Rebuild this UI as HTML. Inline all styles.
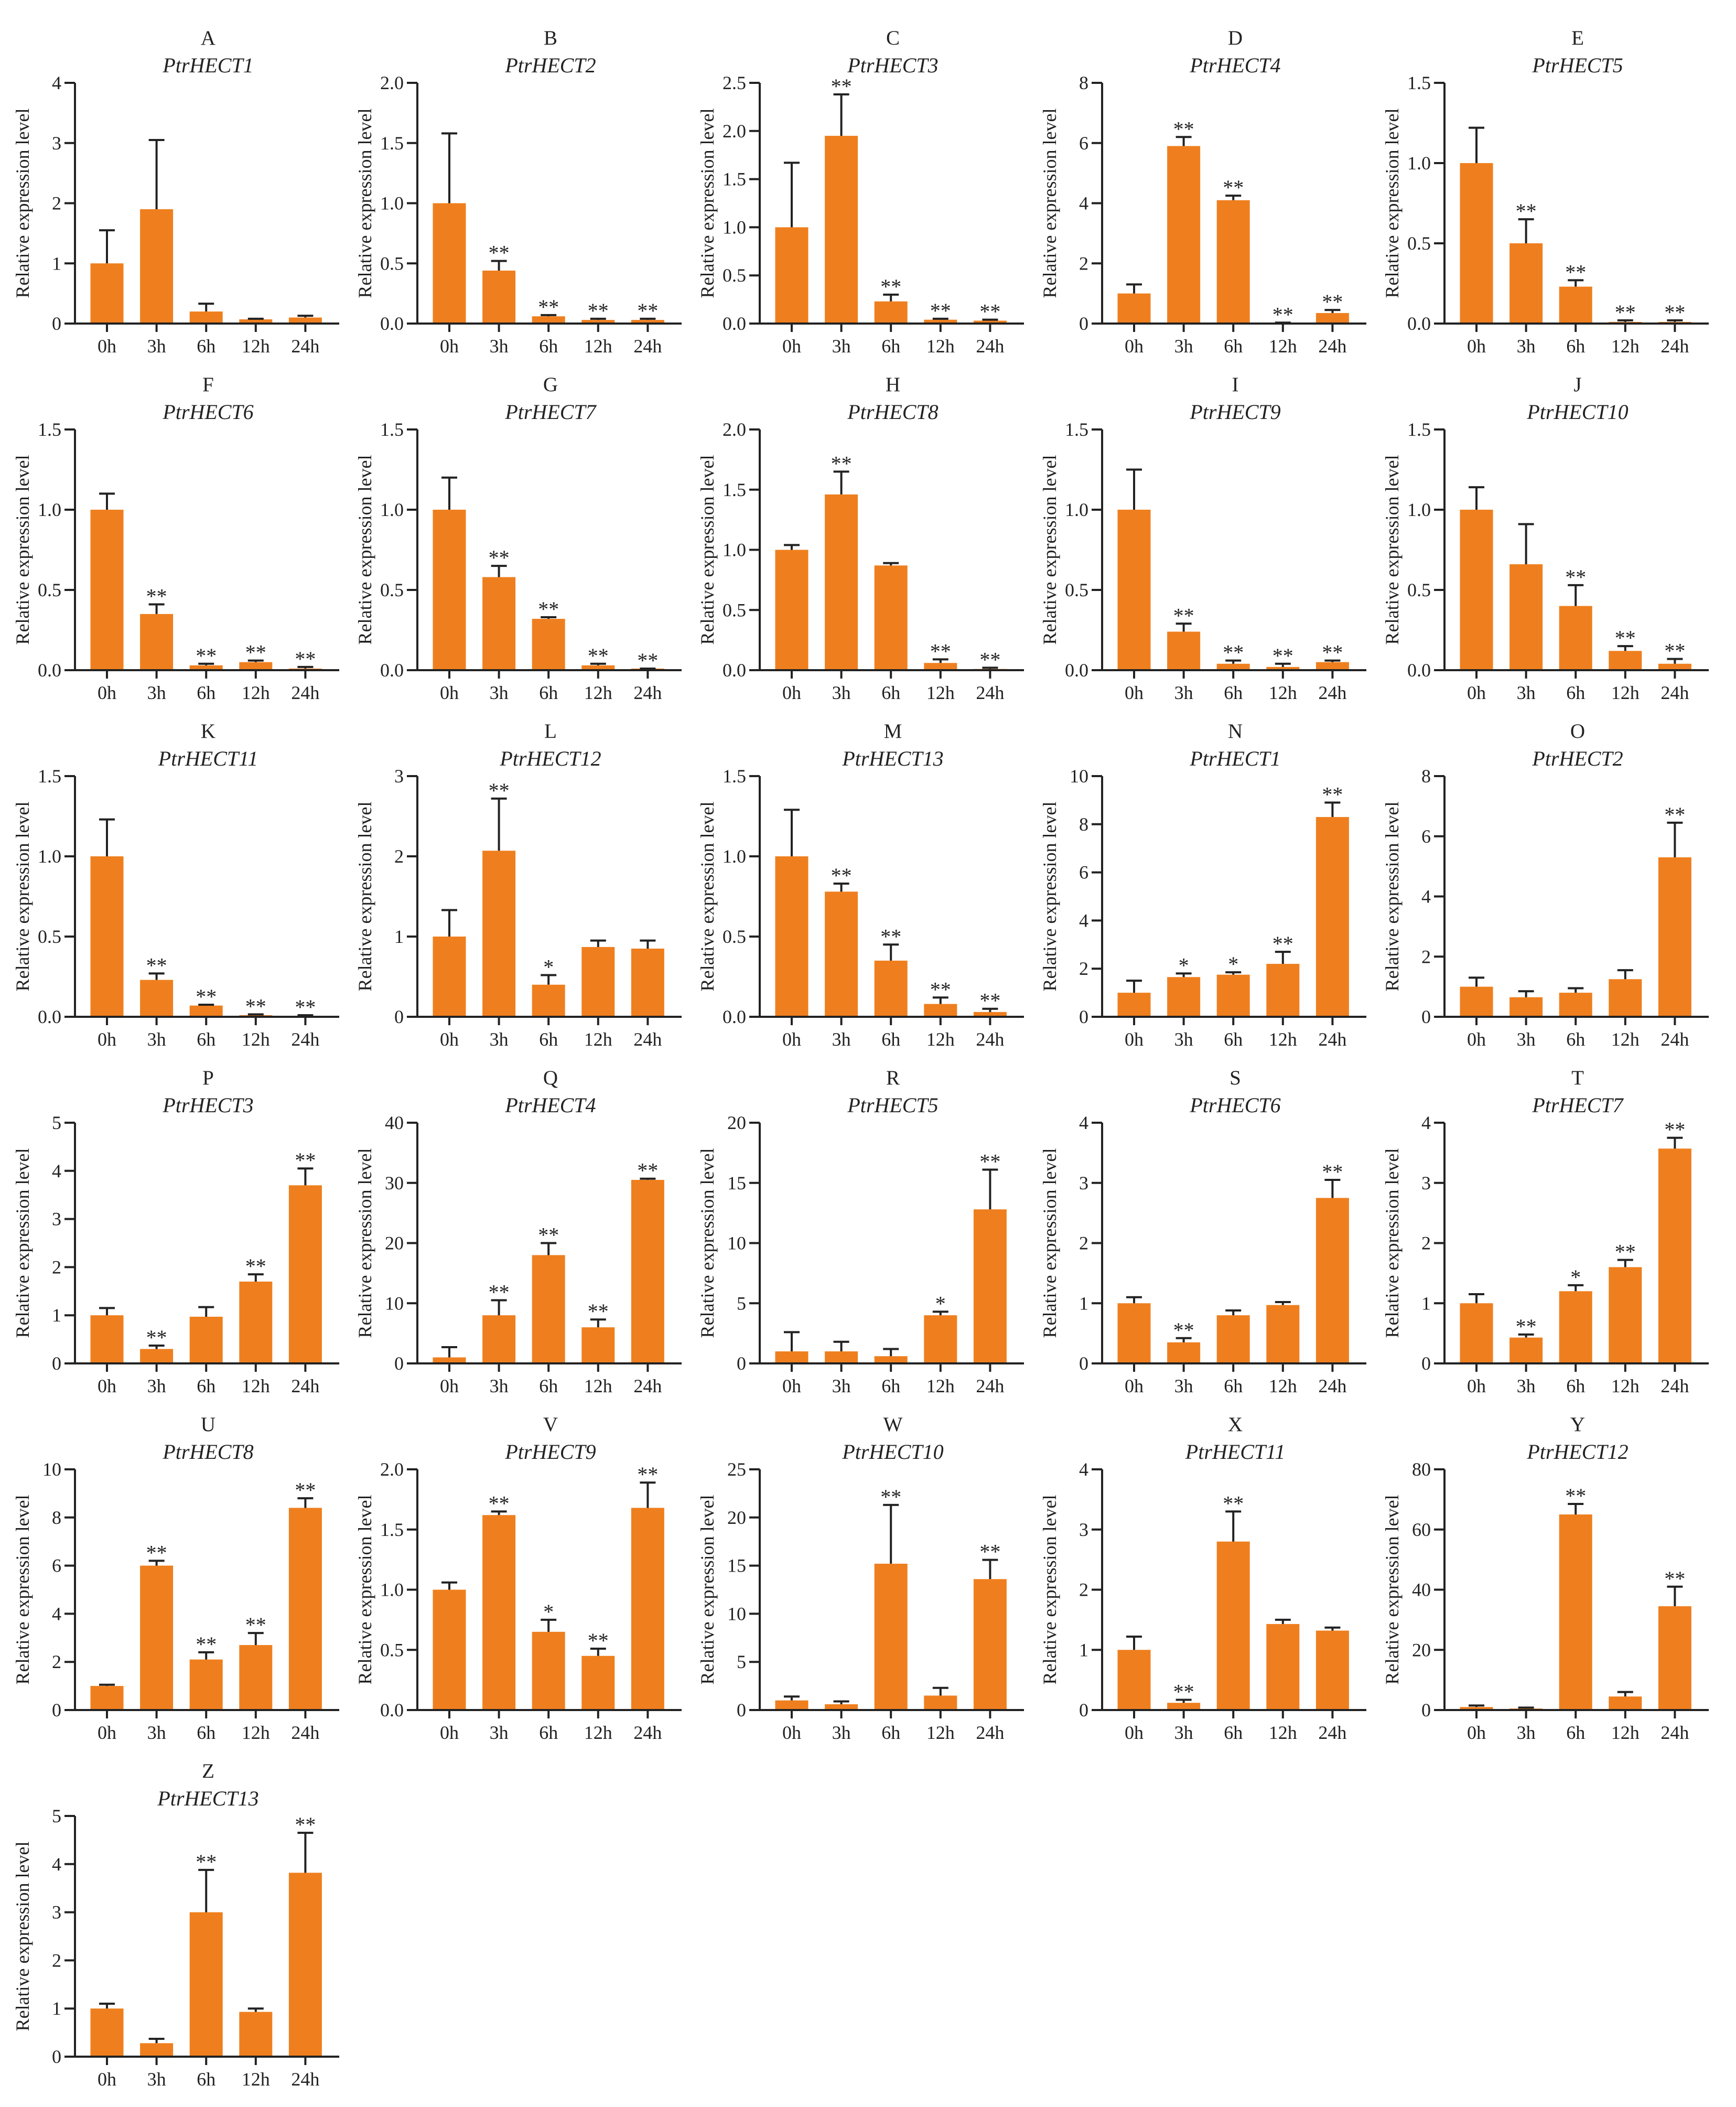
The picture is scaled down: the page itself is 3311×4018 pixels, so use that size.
<!DOCTYPE html>
<html><head><meta charset="utf-8">
<style>
html,body{margin:0;padding:0;background:#fff;}
svg{display:block;}
text{font-family:"Liberation Serif","DejaVu Serif",serif;fill:#222;}
</style></head>
<body>
<svg id="fig" width="3311" height="4018" viewBox="0 0 3311 4018" xmlns="http://www.w3.org/2000/svg"></svg>
<script>
const panelLetters = ["A","B","C","D","E","F","G","H","I","J","K","L","M","N","O","P","Q","R","S","T","U","V","W","X","Y","Z"];
const geneNames = ["PtrHECT1","PtrHECT2","PtrHECT3","PtrHECT4","PtrHECT5","PtrHECT6","PtrHECT7","PtrHECT8","PtrHECT9","PtrHECT10","PtrHECT11","PtrHECT12","PtrHECT13","PtrHECT1","PtrHECT2","PtrHECT3","PtrHECT4","PtrHECT5","PtrHECT6","PtrHECT7","PtrHECT8","PtrHECT9","PtrHECT10","PtrHECT11","PtrHECT12","PtrHECT13"];
const categories = ["0h","3h","6h","12h","24h"];
const yMax = [4,2,2.5,8,1.5,1.5,1.5,2,1.5,1.5,1.5,3,1.5,10,8,5,40,20,4,4,10,2,25,4,80,5];
const yStep = [1,0.5,0.5,2,0.5,0.5,0.5,0.5,0.5,0.5,0.5,1,0.5,2,2,1,10,5,1,1,2,0.5,5,1,20,1];
const means = [
[1,1.9,0.2,0.07,0.1],[1,0.44,0.06,0.03,0.03],[1,1.95,0.23,0.04,0.03],[1,5.9,4.1,0.02,0.35],[1,0.5,0.23,0.01,0.01],
[1,0.35,0.03,0.05,0.01],[1,0.58,0.32,0.03,0.01],[1,1.46,0.87,0.06,0.01],[1,0.24,0.04,0.02,0.05],[1,0.66,0.4,0.12,0.04],
[1,0.23,0.07,0.01,0.005],[1,2.07,0.4,0.87,0.85],[1,0.78,0.35,0.08,0.03],[1,1.65,1.75,2.2,8.3],[1,0.65,0.8,1.25,5.3],
[1,0.3,0.97,1.7,3.7],[1,8,18,6,30.5],[1,1,0.6,4,12.8],[1,0.35,0.8,0.97,2.75],[1,0.43,1.2,1.6,3.57],
[1,6,2.1,2.7,8.4],[1,1.62,0.65,0.45,1.68],[1,0.6,15.2,1.5,13.6],[1,0.12,2.8,1.43,1.32],[1,0.5,65,4.5,34.5],
[1,0.28,3.0,0.93,3.82]];
const errTops = [
[1.55,3.05,0.33,0.08,0.13],[1.58,0.52,0.07,0.04,0.04],[1.67,2.38,0.3,0.05,0.04],[1.3,6.2,4.25,0.03,0.45],[1.22,0.65,0.27,0.02,0.02],
[1.1,0.41,0.04,0.06,0.02],[1.2,0.65,0.33,0.04,0.01],[1.04,1.65,0.89,0.09,0.02],[1.25,0.29,0.06,0.04,0.06],[1.14,0.91,0.53,0.15,0.07],
[1.23,0.27,0.075,0.015,0.01],[1.33,2.72,0.52,0.95,0.95],[1.29,0.83,0.45,0.12,0.05],[1.5,1.8,1.85,2.7,8.9],[1.3,0.85,0.95,1.55,6.45],
[1.15,0.37,1.17,1.85,4.05],[2.7,10.5,20,7.3,30.7],[2.6,1.8,1.2,4.3,16.1],[1.1,0.42,0.88,1.02,3.05],[1.15,0.48,1.3,1.72,3.75],
[1.05,6.2,2.4,3.2,8.8],[1.06,1.65,0.75,0.51,1.89],[1.4,0.9,21.3,2.3,15.6],[1.22,0.17,3.3,1.5,1.37],[1.5,0.8,68.5,6,41],
[1.1,0.37,3.88,1.0,4.65]];
const sigs = [
["","","","",""],["","**","**","**","**"],["","**","**","**","**"],["","**","**","**","**"],["","**","**","**","**"],
["","**","**","**","**"],["","**","**","**","**"],["","**","","**","**"],["","**","**","**","**"],["","","**","**","**"],
["","**","**","**","**"],["","**","*","",""],["","**","**","**","**"],["","*","*","**","**"],["","","","","**"],
["","**","","**","**"],["","**","**","**","**"],["","","","*","**"],["","**","","","**"],["","**","*","**","**"],
["","**","**","**","**"],["","**","*","**","**"],["","","**","","**"],["","**","**","",""],["","","**","","**"],
["","","**","","**"]];

const NS = "http://www.w3.org/2000/svg";
const svg = document.getElementById("fig");
function mk(tag, attrs, parent, txt){
  const e = document.createElementNS(NS, tag);
  for (const k in attrs) e.setAttribute(k, attrs[k]);
  if (txt !== undefined) e.textContent = txt;
  parent.appendChild(e);
  return e;
}
const ORANGE = "#EF7F1E", INK = "#222";
const PH = 459, AXW = 504, BW = 63, STEP = 94.6, OFF0 = 61;

panelLetters.forEach((L, p) => {
  const col = p % 5, row = Math.floor(p / 5);
  const ax = 143 + 653 * col, base = 617 + 661 * row, top = base - PH;
  const yS = v => base - (v / yMax[p]) * PH;
  const xS = i => ax + OFF0 + STEP * i;
  const g = mk("g", {}, svg);
  
  

  const t1 = mk("text", {x: ax + 254, y: top - 73, "font-size": 39, "text-anchor": "middle"}, g, L);
  
  
  const t2 = mk("text", {x: ax + 254, y: top - 20, "font-size": 40, "font-style": "italic", "text-anchor": "middle"}, g, geneNames[p]);
  
  

  const yl = mk("text", {x: 0, y: 0, "font-size": 36, "text-anchor": "middle", transform: `translate(${ax - 88},${(top + base) / 2}) rotate(-90)`}, g, "Relative expression level");
  
  

  means[p].forEach((v, i) => {
    const cx = xS(i);
    const r = mk("rect", {x: cx - BW / 2, y: yS(v), width: BW, height: Math.max(0, base - yS(v)), fill: ORANGE}, g);
    
    
    const et = yS(errTops[p][i]);
    const el = mk("path", {d: `M${cx},${yS(v)}V${et}M${cx - 15},${et}H${cx + 15}`, stroke: INK, "stroke-width": 4, fill: "none"}, g);
    
    
    if (sigs[p][i]) {
      const s = mk("text", {x: cx, y: et - 2, "font-size": 40, "text-anchor": "middle"}, g, sigs[p][i]);
      
      
    }
    const tk = mk("line", {x1: cx, x2: cx, y1: base, y2: base + 16, stroke: INK, "stroke-width": 4}, g);
    
    
    const xl = mk("text", {x: cx, y: base + 55, "font-size": 36, "text-anchor": "middle"}, g, categories[i]);
    if (L === "X") { xl.setAttribute("font-family", "Liberation Sans, sans-serif"); xl.setAttribute("font-size", 36); }
    
    
  });

  const n = Math.round(yMax[p] / yStep[p]);
  const dec = yStep[p] < 1 ? 1 : 0;
  for (let k = 0; k <= n; k++) {
    const v = k * yStep[p], y = yS(v);
    const tk = mk("line", {x1: ax - 20, x2: ax, y1: y, y2: y, stroke: INK, "stroke-width": 4}, g);
    
    
    const tl = mk("text", {x: ax - 26, y: y + 12, "font-size": 36, "text-anchor": "end"}, g, v.toFixed(dec));
    
    
  }
  const axes = mk("path", {d: `M${ax},${top}V${base}H${ax + AXW}`, stroke: INK, "stroke-width": 4, fill: "none"}, g);
  
  
});
</script>
</body></html>
